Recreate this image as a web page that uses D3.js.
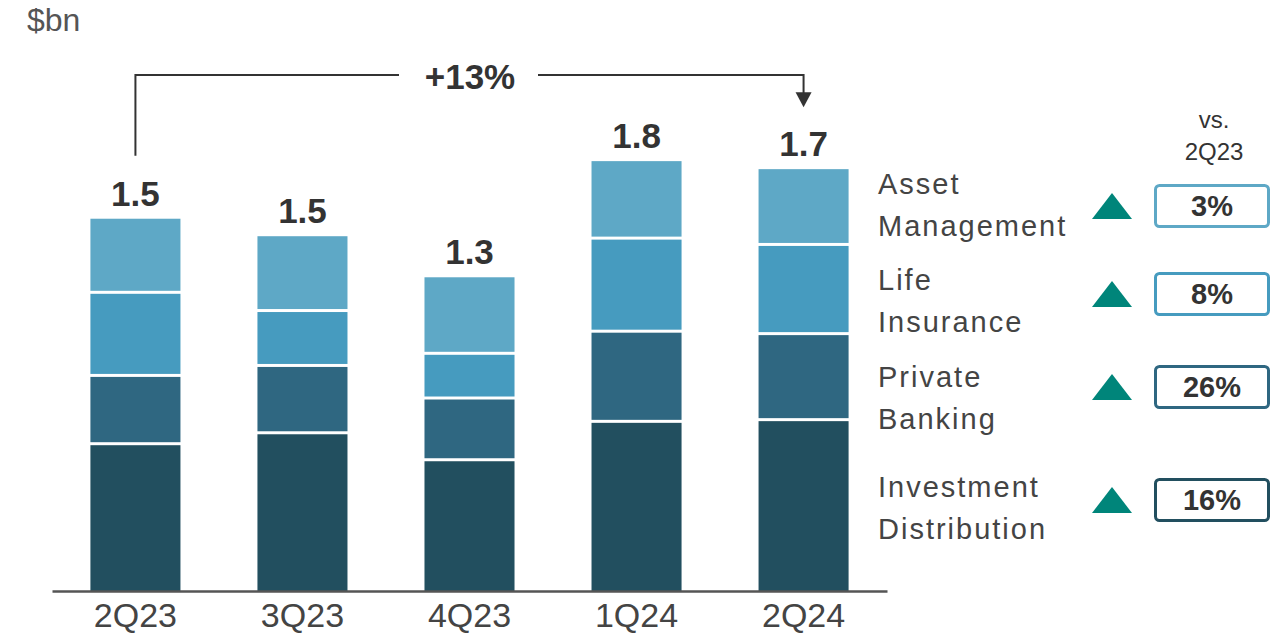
<!DOCTYPE html>
<meta charset="utf-8">
<style>
    body {
        margin: 0;
        background: #fff;
    }

    svg text {
        font-family: "Liberation Sans", Arial, sans-serif;
    }

    .legend-text {
        font-size: 29px;
        fill: #444;
        letter-spacing: 2px;
    }

    .total-label {
        font-size: 35px;
        font-weight: bold;
        fill: #333;
    }

    .change-label {
        font-size: 29px;
        font-weight: bold;
        fill: #333;
    }

    .x-axis text {
        font-size: 34px;
        fill: #444;
    }
</style>

<body>
    <script src="https://cdn.jsdelivr.net/npm/d3@7"></script>
    <script>
        // values, $bn
        var quarters = ["2Q23", "3Q23", "4Q23", "1Q24", "2Q24"];
        var investmentDistribution = [0.600, 0.645, 0.534, 0.692, 0.699];
        var privateBanking = [0.281, 0.277, 0.254, 0.371, 0.354];
        var lifeInsurance = [0.342, 0.226, 0.184, 0.383, 0.367];
        var assetManagement = [0.309, 0.312, 0.319, 0.323, 0.316];
        var totalLabels = ["1.5", "1.5", "1.3", "1.8", "1.7"];

        // stacked bottom to top
        var segmentKeys = ["investment", "private", "life", "asset"];
        var segmentNames = [
            ["Investment", "Distribution"],
            ["Private", "Banking"],
            ["Life", "Insurance"],
            ["Asset", "Management"]
        ];
        var changeVs2Q23 = ["16%", "26%", "8%", "3%"];
        var growthLabel = "+13%";
        var unitLabel = "$bn";
        var compareHeader = ["vs.", "2Q23"];

        var color = d3.scaleOrdinal()
            .domain(segmentKeys)
            .range(["#224f5f", "#2f6781", "#469bbf", "#5ea8c6"]);

        var width = 1283,
            height = 642;

        var rows = quarters.map(function(q, i) {
            return {
                quarter: q,
                investment: investmentDistribution[i],
                private: privateBanking[i],
                life: lifeInsurance[i],
                asset: assetManagement[i],
                label: totalLabels[i]
            };
        });
        rows.forEach(function(d) {
            d.total = d.investment + d.private + d.life + d.asset;
        });

        var x = d3.scaleBand()
            .domain(quarters)
            .range([52, 887])
            .paddingInner(0.461)
            .paddingOuter(0.23);

        var y = d3.scaleLinear()
            .domain([0, 2])
            .range([591, 105]);

        var svg = d3.select("body").append("svg")
            .attr("width", width)
            .attr("height", height);

        var series = d3.stack().keys(segmentKeys)(rows);
        var gap = 3;

        svg.append("g")
            .selectAll("g")
            .data(series)
            .enter().append("g")
            .attr("fill", function(s) { return color(s.key); })
            .selectAll("rect")
            .data(function(s) { return s; })
            .enter().append("rect")
            .attr("x", function(d) { return x(d.data.quarter); })
            .attr("width", x.bandwidth())
            .attr("y", function(d) { return y(d[1]); })
            .attr("height", function(d) {
                return y(d[0]) - y(d[1]) - (d[0] > 0 ? gap : 0);
            });

        // totals on top of bars
        svg.append("g")
            .selectAll("text")
            .data(rows)
            .enter().append("text")
            .attr("class", "total-label")
            .attr("text-anchor", "middle")
            .attr("x", function(d) { return x(d.quarter) + x.bandwidth() / 2; })
            .attr("y", function(d) { return y(d.total) - 13; })
            .text(function(d) { return d.label; });

        // x axis
        var xAxis = svg.append("g")
            .attr("class", "x-axis")
            .attr("transform", "translate(0," + y(0) + ")")
            .call(d3.axisBottom(x).tickSize(0).tickPadding(12).tickSizeOuter(0));
        xAxis.select(".domain")
            .attr("stroke", "#555")
            .attr("stroke-width", 2.5);
        xAxis.selectAll("text")
            .attr("dy", "0.71em")
            .attr("font-family", null)
            .attr("font-size", null);

        // unit label
        svg.append("text")
            .attr("x", 27)
            .attr("y", 31)
            .attr("font-size", 32)
            .attr("fill", "#555")
            .text(unitLabel);

        // growth bracket from first to last quarter
        var first = rows[0],
            last = rows[rows.length - 1];
        var x0 = x(first.quarter) + x.bandwidth() / 2,
            x1 = x(last.quarter) + x.bandwidth() / 2,
            bracketY = 75,
            midX = 470;

        var bracket = svg.append("g")
            .attr("stroke", "#333")
            .attr("stroke-width", 2)
            .attr("fill", "none");
        bracket.append("path")
            .attr("d", "M" + x0 + "," + (y(first.total) - 63) + "V" + bracketY + "H" + (midX - 71));
        bracket.append("path")
            .attr("d", "M" + (midX + 68) + "," + bracketY + "H" + x1 + "V" + (y(last.total) - 72));
        svg.append("path")
            .attr("fill", "#333")
            .attr("d", "M" + (x1 - 8) + "," + (y(last.total) - 77) +
                "L" + (x1 + 8) + "," + (y(last.total) - 77) +
                "L" + x1 + "," + (y(last.total) - 62) + "Z");

        svg.append("text")
            .attr("x", midX)
            .attr("y", 89)
            .attr("text-anchor", "middle")
            .attr("font-size", 35)
            .attr("font-weight", "bold")
            .attr("fill", "#333")
            .text(growthLabel);

        // legend on the right, top row first
        var legendRows = [
            { key: "asset", baseline: 194, center: 206 },
            { key: "life", baseline: 290, center: 294 },
            { key: "private", baseline: 387, center: 387 },
            { key: "investment", baseline: 497, center: 500 }
        ];
        legendRows.forEach(function(r) {
            var i = segmentKeys.indexOf(r.key);
            r.name = segmentNames[i];
            r.change = changeVs2Q23[i];
        });

        svg.append("text")
            .attr("x", 1214)
            .attr("y", 128)
            .attr("text-anchor", "middle")
            .attr("font-size", 24)
            .attr("fill", "#333")
            .text(compareHeader[0]);
        svg.append("text")
            .attr("x", 1214)
            .attr("y", 160)
            .attr("text-anchor", "middle")
            .attr("font-size", 24)
            .attr("fill", "#333")
            .text(compareHeader[1]);

        var legend = svg.selectAll(".legend")
            .data(legendRows)
            .enter().append("g")
            .attr("class", "legend");

        legend.each(function(r) {
            var g = d3.select(this);
            r.name.forEach(function(line, j) {
                g.append("text")
                    .attr("class", "legend-text")
                    .attr("x", 878)
                    .attr("y", r.baseline + j * 42)
                    .text(line);
            });
        });

        legend.append("path")
            .attr("fill", "#00857a")
            .attr("d", function(r) {
                var c = r.center;
                return "M1092," + (c + 13) + "L1132," + (c + 13) + "L1112," + (c - 13) + "Z";
            });

        legend.append("rect")
            .attr("x", 1155.5)
            .attr("y", function(r) { return r.center - 20.5; })
            .attr("width", 113)
            .attr("height", 41)
            .attr("rx", 4)
            .attr("fill", "#fff")
            .attr("stroke", function(r) { return color(r.key); })
            .attr("stroke-width", 3);

        legend.append("text")
            .attr("class", "change-label")
            .attr("x", 1212)
            .attr("y", function(r) { return r.center + 10; })
            .attr("text-anchor", "middle")
            .text(function(r) { return r.change; });
    </script>
</body>
